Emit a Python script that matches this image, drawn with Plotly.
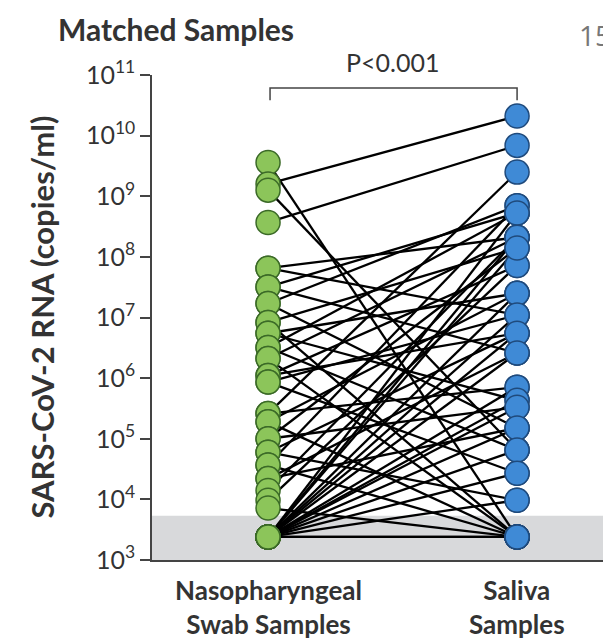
import plotly.graph_objects as go

# matched pairs: nasopharyngeal swab vs saliva, copies/ml
nasal_values = [
    3.6e9, 1.6e9, 1.26e9, 3.7e8,
    6.5e7, 6.5e7, 3.2e7, 3.2e7, 1.7e7, 1.7e7, 8.3e6, 8.3e6,
    5.5e6, 5.5e6, 3.2e6, 3.2e6, 2.1e6, 2.1e6, 1.1e6, 1.1e6,
    8.6e5, 8.6e5, 2.6e5, 2.6e5, 1.9e5, 1.9e5, 1.0e5, 1.0e5,
    6.0e4, 6.0e4, 3.7e4, 3.7e4, 2.2e4, 2.2e4, 1.4e4, 9.7e3, 7.2e3,
    2.4e3, 2.4e3, 2.4e3, 2.4e3, 2.4e3, 2.4e3, 2.4e3, 2.4e3,
    2.4e3, 2.4e3, 2.4e3, 2.4e3, 2.4e3, 2.4e3, 2.4e3, 2.4e3,
]
saliva_values = [
    2.4e3, 2.1e10, 6.5e4, 6.9e9,
    1.1e7, 2.1e8, 5.3e8, 2.6e6, 7.0e8, 1.5e5, 1.4e8, 2.4e3,
    2.5e7, 4.3e5, 5.3e8, 6.5e4, 2.1e8, 2.4e3, 7.2e7, 5.5e6,
    1.1e7, 2.7e4, 2.5e9, 7.1e5, 2.5e7, 2.4e3, 1.4e8, 3.3e5,
    5.5e6, 9.7e3, 7.0e8, 2.4e3, 2.6e6, 1.5e5, 2.1e8, 7.2e7, 2.4e3,
    5.3e8, 2.1e8, 1.4e8, 2.5e7, 1.1e7, 5.5e6, 2.6e6, 7.1e5,
    4.3e5, 3.3e5, 1.5e5, 6.5e4, 2.7e4, 9.7e3, 2.4e3, 2.4e3,
]
tick_vals = [1e3, 1e4, 1e5, 1e6, 1e7, 1e8, 1e9, 1e10, 1e11]
tick_text = ["10<sup>%d</sup>" % p for p in range(3, 12)]
group_labels = ["<b>Nasopharyngeal<br>Swab Samples</b>", "<b>Saliva<br>Samples</b>"]

line_x, line_y = [], []
for a, b in zip(nasal_values, saliva_values):
    line_x += [0, 1, None]
    line_y += [a, b, None]

fig = go.Figure()
fig.add_trace(go.Scatter(x=line_x, y=line_y, mode="lines",
                         line=dict(color="black", width=2.3), hoverinfo="skip"))
fig.add_trace(go.Scatter(x=[0] * len(nasal_values), y=nasal_values, mode="markers",
                         marker=dict(size=24, color="#8cc55a",
                                     line=dict(color="#3b6a27", width=1.5))))
fig.add_trace(go.Scatter(x=[1] * len(saliva_values), y=saliva_values, mode="markers",
                         marker=dict(size=24, color="#3f8ad6",
                                     line=dict(color="#1f4a7c", width=1.5))))

# lower limit of detection band
fig.add_shape(type="rect", xref="paper", yref="paper", x0=0, x1=1, y0=0, y1=0.091,
              fillcolor="#d8d9db", line_width=0, layer="below")
# significance bracket
fig.add_shape(type="path", xref="x", yref="paper",
              path="M 0.008,0.948 L 0.008,0.973 L 1,0.973 L 1,0.948",
              line=dict(color="#444", width=1.5))

font = "Lato, 'Open Sans', sans-serif"
fig.add_annotation(x=0.5, xref="x", y=1.0268, yref="paper", text="P<0.001",
                   showarrow=False, font=dict(size=25, color="#333", family=font),
                   yanchor="middle")
fig.add_annotation(x=-0.213, xref="paper", y=1.095, yref="paper", text="<b>Matched Samples</b>",
                   showarrow=False, xanchor="left", yanchor="middle",
                   font=dict(size=30, color="#333", family=font))
fig.add_annotation(x=-0.246, xref="paper", y=0.5, yref="paper",
                   text="<b>SARS-CoV-2 RNA (copies/ml)</b>", textangle=-90,
                   showarrow=False, xanchor="center", yanchor="middle",
                   font=dict(size=31, color="#333", family=font))
fig.add_annotation(x=0.942, xref="paper", y=1.0825, yref="paper", text="15",
                   showarrow=False, xanchor="left", yanchor="middle",
                   font=dict(size=28, color="#777", family="'Open Sans', sans-serif"))
for i, lab in enumerate(group_labels):
    fig.add_annotation(x=i, xref="x", y=-0.024, yref="paper", text=lab,
                       showarrow=False, yanchor="top",
                       font=dict(size=26, color="#333", family=font))

fig.update_layout(
    width=603, height=639,
    showlegend=False,
    plot_bgcolor="white", paper_bgcolor="white",
    margin=dict(l=152, r=0, t=75, b=79),
    xaxis=dict(range=[-0.466, 1.345], showticklabels=False, ticks="",
               showgrid=False, zeroline=False, showline=True,
               linecolor="#444", linewidth=1.5),
    yaxis=dict(type="log", range=[3, 11], tickvals=tick_vals, ticktext=tick_text,
               ticks="outside", ticklen=10, tickcolor="#444", tickwidth=1.5,
               showgrid=False, zeroline=False, showline=True,
               linecolor="#444", linewidth=1.5,
               tickfont=dict(size=25, color="#333", family=font)),
)

# drop the default page margin so the figure fills the window exactly
fig.write_html("out.html", config={"displayModeBar": False},
               post_script="document.body.style.margin='0';document.body.style.overflow='hidden';")
